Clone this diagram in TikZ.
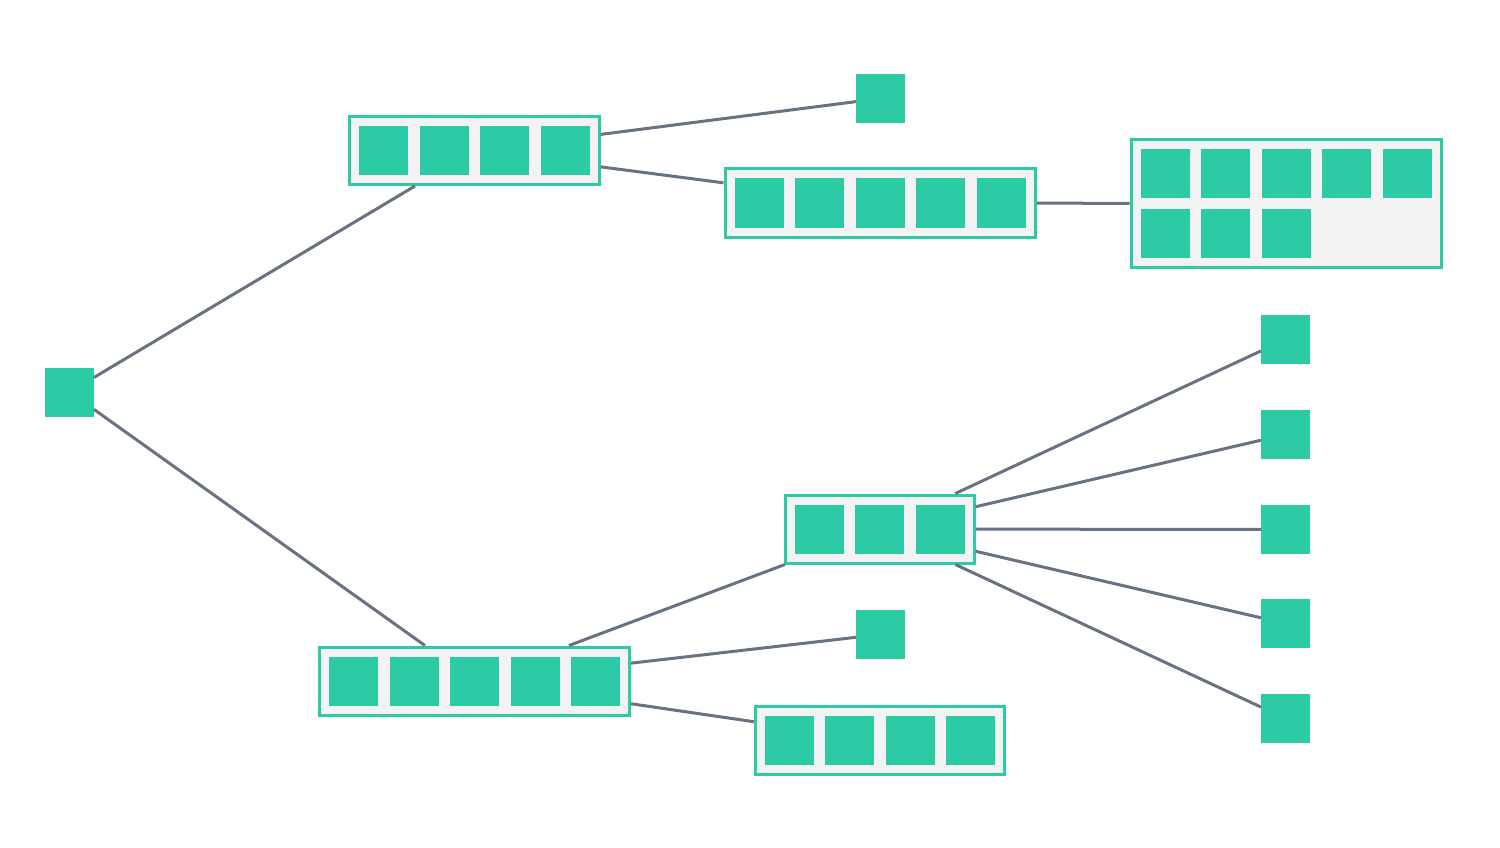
\documentclass[tikz,border=0pt]{standalone}
\usetikzlibrary{calc}
\definecolor{tealc}{HTML}{2DCBA5}
\definecolor{edgec}{HTML}{687280}
\definecolor{boxbg}{HTML}{F3F3F3}
\tikzset{
  cell/.style={fill=tealc, draw=none, minimum size=49pt, inner sep=0pt, outer sep=0pt},
  arr/.style={draw=tealc, fill=boxbg, line width=3pt, inner sep=0pt, minimum height=68pt},
  link/.style={draw=edgec, line width=3pt},
}
\begin{document}
\begin{tikzpicture}[x=1pt,y=-1pt]
\useasboundingbox[fill=white] (0,0) rectangle (1500,848);
% single cells
\node[cell] (root) at (69.5,392) {};
\node[cell] (t1) at (880.5,98.5) {};
\node[cell] (m1) at (880.5,634.5) {};
\node[cell] (r1) at (1285.5,339.5) {};
\node[cell] (r2) at (1285.5,434.5) {};
\node[cell] (r3) at (1285.5,529.5) {};
\node[cell] (r4) at (1285.5,623.5) {};
\node[cell] (r5) at (1285.5,718.5) {};
% arrays
\node[arr, minimum width=249.5pt] (b1) at (474.5,150.5) {};
\foreach \i in {0,...,3} \node[cell] at ($(b1)+({60.5*(\i-1.5)},0)$) {};
\node[arr, minimum width=310pt] (b2) at (880,203) {};
\foreach \i in {0,...,4} \node[cell] at ($(b2)+({60.5*(\i-2)},0)$) {};
\node[arr, minimum width=310pt, minimum height=128.5pt] (b3) at (1286,203.5) {};
\foreach \i in {0,...,4} \node[cell] at ($(b3)+({60.5*(\i-2)},-30.25)$) {};
\foreach \i in {0,...,2} \node[cell] at ($(b3)+({60.5*(\i-2)},30.25)$) {};
\node[arr, minimum width=189pt] (b4) at (879.5,529) {};
\foreach \i in {0,...,2} \node[cell] at ($(b4)+({60.5*(\i-1)},0)$) {};
\node[arr, minimum width=310pt] (b5) at (474.5,681) {};
\foreach \i in {0,...,4} \node[cell] at ($(b5)+({60.5*(\i-2)},0)$) {};
\node[arr, minimum width=249.5pt] (b6) at (880,740) {};
\foreach \i in {0,...,3} \node[cell] at ($(b6)+({60.5*(\i-1.5)},0)$) {};
% links
\draw[link] (root) -- (b1);
\draw[link] (root) -- (b5);
\draw[link] (b1) -- (t1);
\draw[link] (b1) -- (b2);
\draw[link] (b2) -- (b3);
\draw[link] (b5) -- (b4);
\draw[link] (b5) -- (m1);
\draw[link] (b5) -- (b6);
\foreach \r in {r1,r2,r3,r4,r5} \draw[link] (b4) -- (\r);
\end{tikzpicture}
\end{document}
